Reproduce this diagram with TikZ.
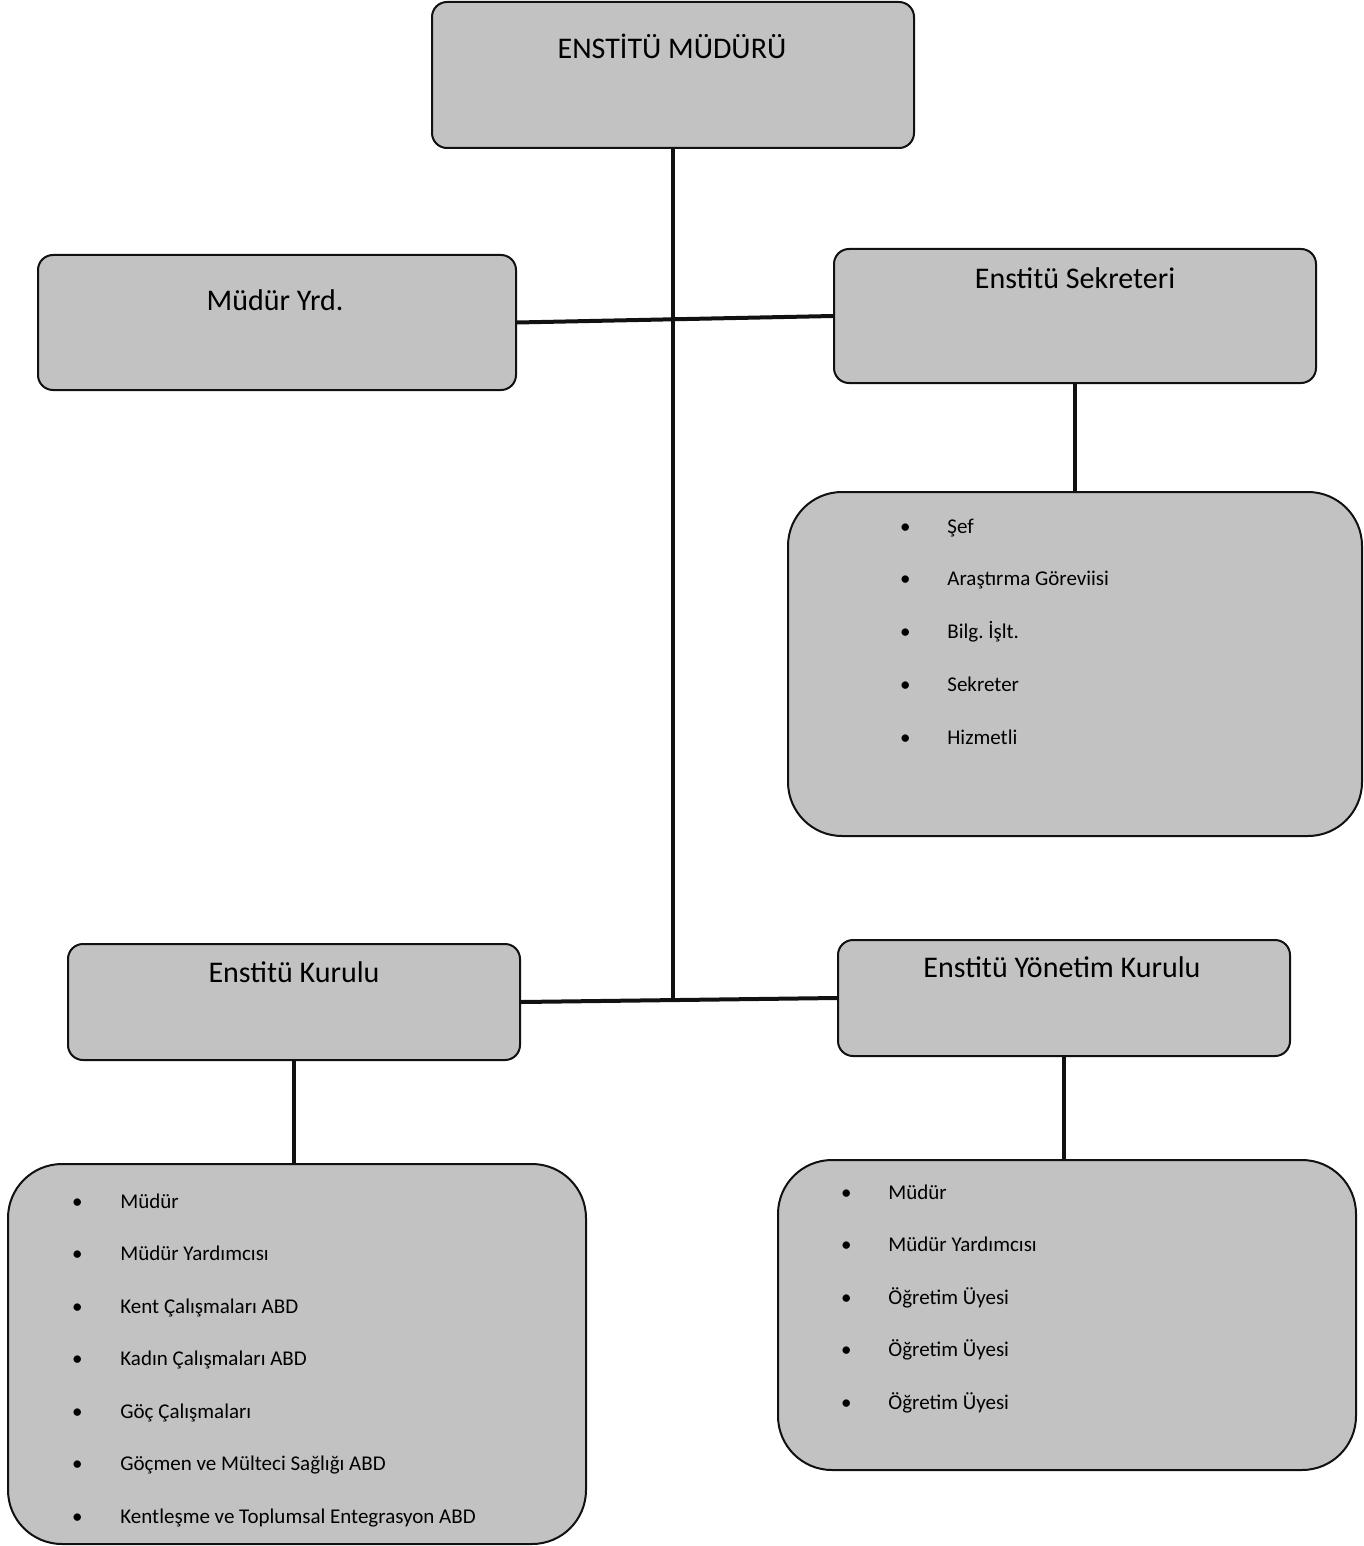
\documentclass[tikz,border=0pt]{standalone}
\usepackage{fontspec}
\setmainfont{Carlito}
\usepackage{xcolor}
\usepackage{tikz}
\usetikzlibrary{positioning}
\definecolor{orgfill}{HTML}{C2C2C2}
\definecolor{orgink}{HTML}{111111}

\begin{document}
\begin{tikzpicture}[
  x=0.5pt,y=-0.5pt,
  box/.style={draw=orgink,fill=orgfill,line width=1pt,rounded corners=7.5pt,inner sep=0pt},
  listbox/.style={box,rounded corners=27pt},
  title/.style={anchor=base,font=\fontsize{15}{18}\selectfont,inner sep=0pt},
  item/.style={anchor=base west,font=\fontsize{10.5}{12.6}\selectfont,inner sep=0pt},
  link/.style={draw=orgink,line width=2pt}
]
\useasboundingbox (0,0) rectangle (1364,1546);

% boxes
\node[box,minimum width=241pt,minimum height=73pt] (mud) at (673,75) {};
\node[box,minimum width=239pt,minimum height=67.5pt] (yrd) at (277,322.5) {};
\node[box,minimum width=241pt,minimum height=67pt] (sek) at (1075,316) {};
\node[listbox,minimum width=287pt,minimum height=172pt] (seklist) at (1075,664) {};
\node[box,minimum width=226pt,minimum height=58pt] (kur) at (294,1002) {};
\node[box,minimum width=226pt,minimum height=58pt] (yon) at (1064,998) {};
\node[listbox,minimum width=289pt,minimum height=190pt] (kurlist) at (297,1354) {};
\node[listbox,minimum width=289pt,minimum height=155pt] (yonlist) at (1067,1315) {};

% titles
\node[title] (mudt) at (672,59) {ENSTİTÜ MÜDÜRÜ};
\node[title] (yrdt) at (275,310) {Müdür Yrd.};
\node[title] (sekt) at (1075,288) {Enstitü Sekreteri};
\node[title] (kurt) at (294,982) {Enstitü Kurulu};
\node[title] (yont) at (1062,977) {Enstitü Yönetim Kurulu};

% lists
\foreach \txt [count=\i] in {Şef, Araştırma Göreviisi, Bilg.\ İşlt., Sekreter, Hizmetli}
  \node[item] (sek\i) at (905,{533+52.75*(\i-1)}) {\makebox[0pt]{\textbullet}\hspace{21pt}\txt};
\foreach \txt [count=\i] in {Müdür, Müdür Yardımcısı, Kent Çalışmaları ABD, Kadın Çalışmaları ABD, Göç Çalışmaları, Göçmen ve Mülteci Sağlığı ABD, Kentleşme ve Toplumsal Entegrasyon ABD}
  \node[item] (kur\i) at (77,{1208+52.5*(\i-1)}) {\makebox[0pt]{\textbullet}\hspace{21.5pt}\txt};
\foreach \txt [count=\i] in {Müdür, Müdür Yardımcısı, Öğretim Üyesi, Öğretim Üyesi, Öğretim Üyesi}
  \node[item] (yon\i) at (846,{1199+52.5*(\i-1)}) {\makebox[0pt]{\textbullet}\hspace{21pt}\txt};

% connectors
\draw[link] (mud.south) -- (mud.south |- kur.east);
\draw[link] (yrd.east) -- (sek.west);
\draw[link] (kur.east) -- (yon.west);
\draw[link] (sek.south) -- (seklist.north);
\draw[link] (kur.south) -- (kur.south |- kurlist.north);
\draw[link] (yon.south) -- (yon.south |- yonlist.north);
\end{tikzpicture}
\end{document}
